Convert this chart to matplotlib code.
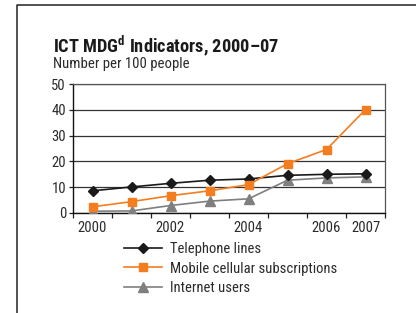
import matplotlib
matplotlib.use('Agg')
import matplotlib.pyplot as plt
from matplotlib import font_manager
from matplotlib.lines import Line2D

years = ['2000', '2001', '2002', '2003', '2004', '2005', '2006', '2007']
telephone = [8.6, 10.1, 11.5, 12.7, 13.2, 14.6, 15.0, 15.2]
mobile = [2.4, 4.4, 6.7, 8.6, 11.0, 19.1, 24.6, 40.1]
internet = [0.7, 0.8, 2.9, 4.6, 5.5, 12.7, 13.6, 14.0]
shown_labels = ['2000', '2002', '2004', '2006', '2007']

# pick a narrow font if one is installed
names = {f.name for f in font_manager.fontManager.ttflist}
family = 'DejaVu Sans'
for cand in ['Liberation Sans Narrow', 'DejaVu Sans Condensed', 'Roboto Condensed',
             'Open Sans Condensed', 'Liberation Sans']:
    if cand in names:
        family = cand
        break
plt.rcParams['font.family'] = family
plt.rcParams['mathtext.fontset'] = 'custom'
plt.rcParams['mathtext.bf'] = family + ':bold'
plt.rcParams['mathtext.rm'] = family

txt = '#2b2b2b'
fig = plt.figure(figsize=(4.16, 3.13), dpi=100)
ax = fig.add_axes([73 / 416, 1 - 213 / 313, 312 / 416, 129 / 313])

x = list(range(len(years)))
ax.plot(x, telephone, color='#1a1a1a', lw=1.2, marker='D', ms=5.5, label='Telephone lines', zorder=4)
ax.plot(x, mobile, color='#f47d20', lw=1.2, marker='s', ms=5.5, label='Mobile cellular subscriptions', zorder=5)
ax.plot(x, internet, color='#7f7f7f', lw=1.2, marker='^', ms=7, label='Internet users', zorder=3)

ax.set_xlim(-0.5, 7.5)
ax.set_ylim(0, 50)
ax.set_yticks(range(0, 51, 10))
ax.yaxis.grid(True, color='#333333', lw=0.9)
ax.set_axisbelow(True)

pos = [years.index(s) for s in shown_labels]
ax.set_xticks(pos)
ax.set_xticklabels(shown_labels)
ax.set_xticks([i - 0.5 for i in range(len(years) + 1)], minor=True)
ax.tick_params(axis='x', which='major', length=0, pad=6, labelsize=10.5, labelcolor=txt)
ax.tick_params(axis='x', which='minor', length=3.5, width=0.9, color='#222222')
ax.tick_params(axis='y', length=3, width=0.9, pad=2, labelsize=10.5, labelcolor=txt, color='#222222')

for s in ['left', 'bottom']:
    ax.spines[s].set_color('#111111')
    ax.spines[s].set_linewidth(1.0)
for s in ['top', 'right']:
    ax.spines[s].set_color('#555555')
    ax.spines[s].set_linewidth(0.9)

fig.text(53 / 416, 1 - 52 / 313, r'ICT MDG$^{\mathbf{d}}$ Indicators, 2000–07',
         fontsize=13.2, fontweight='bold', color='#1a1a1a', va='baseline')
fig.text(53 / 416, 1 - 68 / 313, 'Number per 100 people', fontsize=10.6, color=txt, va='baseline')

fig.legend(loc='upper left', bbox_to_anchor=(124 / 416, 1 - 242 / 313), frameon=False,
           fontsize=10.5, handlelength=2.6, handletextpad=0.55, labelspacing=0.38,
           borderpad=0, borderaxespad=0, labelcolor=txt)

fig.add_artist(Line2D([17 / 416, 17 / 416, 1], [0, 1 - 5 / 313, 1 - 5 / 313],
                      transform=fig.transFigure, color='#222222', lw=1.1))

fig.savefig('out.png', dpi=100)
